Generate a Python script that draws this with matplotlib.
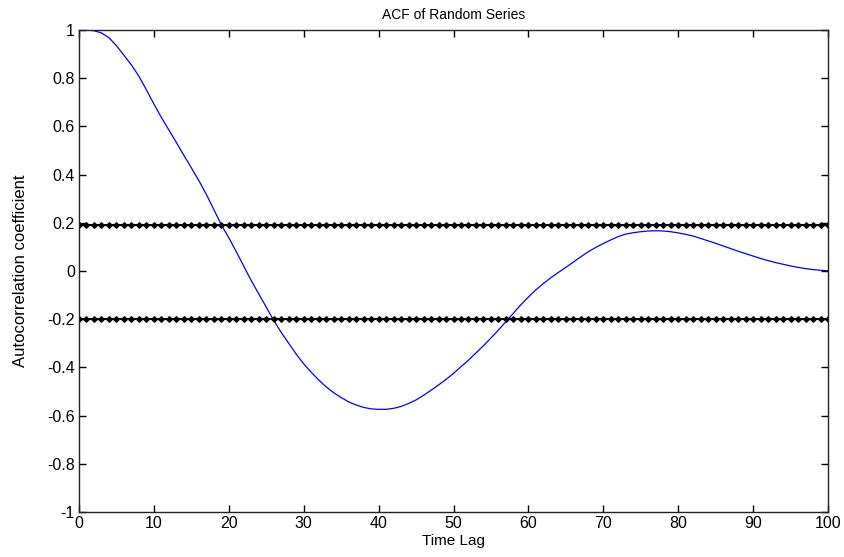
import numpy as np
import matplotlib
matplotlib.use("Agg")
import matplotlib.pyplot as plt

plt.rcParams['font.family'] = ['Liberation Sans', 'DejaVu Sans']

lags = list(range(1, 101))
acf = [1.000, 0.997, 0.988, 0.968, 0.935, 0.895, 0.855, 0.808, 0.752, 0.693,
       0.637, 0.585, 0.533, 0.480, 0.428, 0.375, 0.318, 0.255, 0.192, 0.138,
       0.080, 0.020, -0.040, -0.095, -0.150, -0.205, -0.255, -0.300, -0.345, -0.385,
       -0.420, -0.452, -0.481, -0.505, -0.525, -0.543, -0.556, -0.566, -0.572, -0.574,
       -0.574, -0.570, -0.562, -0.550, -0.535, -0.516, -0.495, -0.473, -0.450, -0.425,
       -0.397, -0.370, -0.340, -0.310, -0.278, -0.245, -0.210, -0.175, -0.140, -0.108,
       -0.078, -0.052, -0.028, -0.006, 0.015, 0.037, 0.059, 0.080, 0.098, 0.114,
       0.129, 0.143, 0.153, 0.159, 0.163, 0.166, 0.167, 0.166, 0.163, 0.158,
       0.152, 0.145, 0.135, 0.125, 0.115, 0.104, 0.093, 0.082, 0.072, 0.062,
       0.052, 0.043, 0.035, 0.028, 0.021, 0.015, 0.010, 0.006, 0.003, 0.001]
conf_x = list(range(0, 101))
upper_conf = 0.19
lower_conf = -0.20

xticks = list(range(0, 101, 10))
yticks = [-1, -0.8, -0.6, -0.4, -0.2, 0, 0.2, 0.4, 0.6, 0.8, 1]
yticklabels = ['-1', '-0.8', '-0.6', '-0.4', '-0.2', '0', '0.2', '0.4', '0.6', '0.8', '1']

fig = plt.figure(figsize=(8.44, 5.57), dpi=100)
ax = fig.add_axes([79/844, 1-512/557, (828-79)/844, (512-30)/557])

ax.plot(lags, acf, color='#0000ff', lw=0.9)
ax.plot(conf_x, [upper_conf]*len(conf_x), color='black', lw=1.5, marker='D', ms=2.8)
ax.plot(conf_x, [lower_conf]*len(conf_x), color='black', lw=1.5, marker='D', ms=2.8)

ax.set_xlim(0, 100)
ax.set_ylim(-1, 1)
ax.set_xticks(xticks)
ax.set_xticklabels([str(t) for t in xticks])
ax.set_yticks(yticks)
ax.set_yticklabels(yticklabels)
ax.tick_params(direction='in', length=5, width=1, top=True, right=True,
               labelsize=11.5, pad=3)
for s in ax.spines.values():
    s.set_linewidth(1.0)
    s.set_color('#222222')
ax.set_title('ACF of Random Series', fontsize=10, pad=8)
ax.set_xlabel('Time Lag', fontsize=11, labelpad=2)
ax.set_ylabel('Autocorrelation coefficient', fontsize=12, labelpad=14)

fig.savefig('out.png', dpi=100)
